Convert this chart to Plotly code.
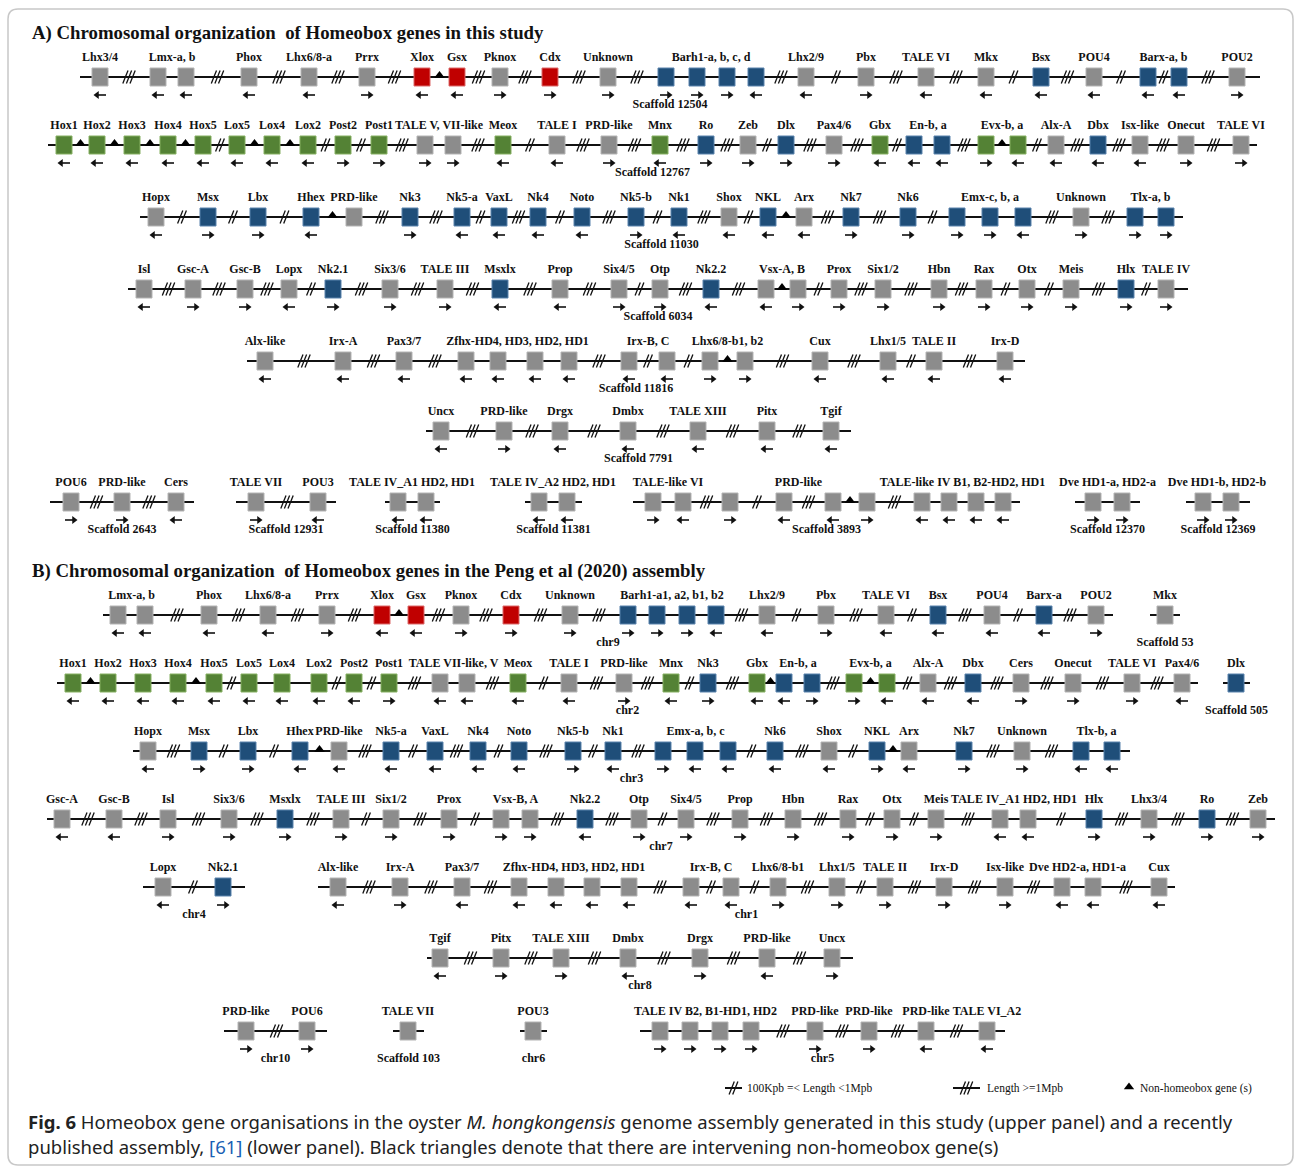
import plotly.graph_objects as go

# ---------------- data ----------------
# colour codes: g grey (other homeobox), r red (ParaHox), b blue (NKL), v green (Hox-linked)
# direction codes: '>' forward, '<' reverse, '.' not shown
# gap codes between neighbours: '0' adjacent, '2' 100Kpb-1Mpb, '3' >=1Mpb, 't' non-homeobox gene(s)

# ----- Panel A : this study -----
A1_x = [100, 158, 186, 249, 309, 367, 422, 457, 500, 550, 608, 666, 697, 727, 756, 806, 866, 926, 986, 1041, 1094, 1148, 1179, 1237]
A1_col = "ggggggrrgrgbbbbggggbgbbg"
A1_dir = "<<<<<><<>>>>>><<><<<<<<>"
A1_gap = "303333t3333000323323223"
A1_lab = ["Lhx3/4", "Lmx-a, b", "Phox", "Lhx6/8-a", "Prrx", "Xlox", "Gsx", "Pknox", "Cdx", "Unknown",
          "Barh1-a, b, c, d", "Lhx2/9", "Pbx", "TALE VI", "Mkx", "Bsx", "POU4", "Barx-a, b", "POU2"]
A1_grp = [1, 2, 1, 1, 1, 1, 1, 1, 1, 1, 4, 1, 1, 1, 1, 1, 1, 2, 1]

A2_x = [64, 97, 132, 168, 203, 237, 272, 308, 343, 379, 425, 453, 503, 557, 609, 660, 706, 748, 786, 834,
        880, 914, 942, 986, 1018, 1056, 1098, 1140, 1186, 1241]
A2_col = "vvvvvvvvvvggvggvbgbgvbbvvgbggg"
A2_dir = "<<<<<<<<>>>><<><>>>><<<><<<<>>"
A2_gap = "tttt2tt2230323333233203t23333"
A2_lab = ["Hox1", "Hox2", "Hox3", "Hox4", "Hox5", "Lox5", "Lox4", "Lox2", "Post2", "Post1", "TALE V, VII-like",
          "Meox", "TALE I", "PRD-like", "Mnx", "Ro", "Zeb", "Dlx", "Pax4/6", "Gbx", "En-b, a", "Evx-b, a",
          "Alx-A", "Dbx", "Isx-like", "Onecut", "TALE VI"]
A2_grp = [1, 1, 1, 1, 1, 1, 1, 1, 1, 1, 2, 1, 1, 1, 1, 1, 1, 1, 1, 1, 2, 2, 1, 1, 1, 1, 1]

A3_x = [156, 208, 258, 311, 354, 410, 462, 499, 538, 582, 636, 679, 729, 768, 804, 851, 908, 957, 990, 1023,
        1081, 1135, 1166]
A3_col = "gbbbgbbbbbbbgbgbbbbbgbb"
A3_dir = "<>><.><<<<><<<<>>>><>>>"
A3_gap = "222t332323232t33200330"
A3_lab = ["Hopx", "Msx", "Lbx", "Hhex", "PRD-like", "Nk3", "Nk5-a", "VaxL", "Nk4", "Noto", "Nk5-b", "Nk1",
          "Shox", "NKL", "Arx", "Nk7", "Nk6", "Emx-c, b, a", "Unknown", "Tlx-a, b"]
A3_grp = [1, 1, 1, 1, 1, 1, 1, 1, 1, 1, 1, 1, 1, 1, 1, 1, 1, 3, 1, 2]

A4_x = [144, 193, 245, 289, 333, 390, 445, 500, 560, 619, 660, 711, 766, 798, 839, 883, 939, 984, 1027, 1071,
        1126, 1166]
A4_col = "ggggbggbgggbggggggggbg"
A4_dir = "<>><>>><<>><<>>>>>>>>>"
A4_gap = "333233333233t23332232"
A4_lab = ["Isl", "Gsc-A", "Gsc-B", "Lopx", "Nk2.1", "Six3/6", "TALE III", "Msxlx", "Prop", "Six4/5", "Otp",
          "Nk2.2", "Vsx-A, B", "Prox", "Six1/2", "Hbn", "Rax", "Otx", "Meis", "Hlx", "TALE IV"]
A4_grp = [1, 1, 1, 1, 1, 1, 1, 1, 1, 1, 1, 1, 2, 1, 1, 1, 1, 1, 1, 1, 1]

A5_x = [265, 343, 404, 466, 498, 535, 569, 629, 667, 710, 745, 820, 888, 934, 1005]
A5_col = "ggggggggggggggg"
A5_dir = "<<<<<<<<<>><<<<"
A5_gap = "333000322t3323"
A5_lab = ["Alx-like", "Irx-A", "Pax3/7", "Zfhx-HD4, HD3, HD2, HD1", "Irx-B, C", "Lhx6/8-b1, b2", "Cux",
          "Lhx1/5", "TALE II", "Irx-D"]
A5_grp = [1, 1, 1, 4, 2, 2, 1, 1, 1, 1]

A6_x = [441, 504, 560, 628, 698, 767, 831]
A6_col = "ggggggg"
A6_dir = "<><<<<<"
A6_gap = "333333"
A6_lab = ["Uncx", "PRD-like", "Drgx", "Dmbx", "TALE XIII", "Pitx", "Tgif"]
A6_grp = [1, 1, 1, 1, 1, 1, 1]

A7a_x, A7a_col, A7a_dir, A7a_gap = [71, 122, 176], "ggg", ">><", "33"
A7a_lab, A7a_grp = ["POU6", "PRD-like", "Cers"], [1, 1, 1]
A7b_x, A7b_col, A7b_dir, A7b_gap = [256, 318], "gg", "><", "3"
A7b_lab, A7b_grp = ["TALE VII", "POU3"], [1, 1]
A7c_x, A7c_col, A7c_dir, A7c_gap = [398, 426], "gg", "<<", "0"
A7c_lab, A7c_grp = ["TALE IV_A1 HD2, HD1"], [2]
A7d_x, A7d_col, A7d_dir, A7d_gap = [539, 567], "gg", "<<", "0"
A7d_lab, A7d_grp = ["TALE IV_A2 HD2, HD1"], [2]
A7e_x = [653, 683, 730, 784, 833, 867, 922, 949, 976, 1003]
A7e_col, A7e_dir, A7e_gap = "gggggggggg", "><><<><<<<", "0323t3000"
A7e_lab, A7e_grp = ["TALE-like VI", "PRD-like", "TALE-like IV B1, B2-HD2, HD1"], [2, 4, 4]
A7f_x, A7f_col, A7f_dir, A7f_gap = [1093, 1122], "gg", ">>", "0"
A7f_lab, A7f_grp = ["Dve HD1-a, HD2-a"], [2]
A7g_x, A7g_col, A7g_dir, A7g_gap = [1203, 1231], "gg", ">>", "0"
A7g_lab, A7g_grp = ["Dve HD1-b, HD2-b"], [2]

# ----- Panel B : Peng et al (2020) assembly -----
B1_x = [118, 145, 209, 268, 327, 382, 416, 461, 511, 570, 628, 657, 687, 716, 767, 826, 886, 938, 992, 1044, 1096]
B1_col = "gggggrrgrgbbbbgggbgbg"
B1_dir = "<<<<><<>>>>>><<><<<<>"
B1_gap = "03333t33330003232323"
B1_lab = ["Lmx-a, b", "Phox", "Lhx6/8-a", "Prrx", "Xlox", "Gsx", "Pknox", "Cdx", "Unknown",
          "Barh1-a1, a2, b1, b2", "Lhx2/9", "Pbx", "TALE VI", "Bsx", "POU4", "Barx-a", "POU2"]
B1_grp = [2, 1, 1, 1, 1, 1, 1, 1, 1, 4, 1, 1, 1, 1, 1, 1, 1]
B1m_x, B1m_col, B1m_dir, B1m_gap, B1m_lab, B1m_grp = [1165], "g", ".", "", ["Mkx"], [1]

B2_x = [73, 108, 143, 178, 214, 249, 282, 319, 354, 389, 440, 467, 518, 569, 624, 671, 708, 757, 784, 812,
        854, 887, 928, 973, 1021, 1073, 1132, 1182]
B2_col = "vvvvvvvvvvggvggvbvbbvvgbgggg"
B2_dir = "<<<<<<<<<><<<<><><<>><<<>>><"
B2_gap = "t00t2002230323323t03t233333"
B2_lab = ["Hox1", "Hox2", "Hox3", "Hox4", "Hox5", "Lox5", "Lox4", "Lox2", "Post2", "Post1", "TALE VII-like, V",
          "Meox", "TALE I", "PRD-like", "Mnx", "Nk3", "Gbx", "En-b, a", "Evx-b, a", "Alx-A", "Dbx", "Cers",
          "Onecut", "TALE VI", "Pax4/6"]
B2_grp = [1, 1, 1, 1, 1, 1, 1, 1, 1, 1, 2, 1, 1, 1, 1, 1, 1, 2, 2, 1, 1, 1, 1, 1, 1]
B2d_x, B2d_col, B2d_dir, B2d_gap, B2d_lab, B2d_grp = [1236], "b", ".", "", ["Dlx"], [1]

B3_x = [148, 199, 248, 300, 339, 391, 435, 478, 519, 573, 613, 663, 695, 728, 775, 829, 877, 909, 964, 1022,
        1081, 1112]
B3_col = "gbbbgbbbbbbbbbbgbgbgbb"
B3_dir = "<>><<<<<<><><<<<><>><<"
B3_gap = "322t323232300232t0330"
B3_lab = ["Hopx", "Msx", "Lbx", "Hhex", "PRD-like", "Nk5-a", "VaxL", "Nk4", "Noto", "Nk5-b", "Nk1",
          "Emx-a, b, c", "Nk6", "Shox", "NKL", "Arx", "Nk7", "Unknown", "Tlx-b, a"]
B3_grp = [1, 1, 1, 1, 1, 1, 1, 1, 1, 1, 1, 3, 1, 1, 1, 1, 1, 1, 2]

B4_x = [62, 114, 168, 229, 285, 341, 391, 449, 501, 530, 585, 639, 686, 740, 793, 848, 892, 936, 1000, 1028,
        1094, 1149, 1207, 1258]
B4_col = "ggggbgggggbgggggggggbgbg"
B4_dir = "<<>>>>>>>><>>>>>>><<>>>>"
B4_gap = "33333232033233322302333"
B4_lab = ["Gsc-A", "Gsc-B", "Isl", "Six3/6", "Msxlx", "TALE III", "Six1/2", "Prox", "Vsx-B, A", "Nk2.2", "Otp",
          "Six4/5", "Prop", "Hbn", "Rax", "Otx", "Meis", "TALE IV_A1 HD2, HD1", "Hlx", "Lhx3/4", "Ro", "Zeb"]
B4_grp = [1, 1, 1, 1, 1, 1, 1, 1, 2, 1, 1, 1, 1, 1, 1, 1, 1, 2, 1, 1, 1, 1]

B5a_x, B5a_col, B5a_dir, B5a_gap = [163, 223], "gb", "<>", "2"
B5a_lab, B5a_grp = ["Lopx", "Nk2.1"], [1, 1]
B5b_x = [338, 400, 462, 519, 556, 592, 629, 691, 731, 778, 837, 885, 944, 1005, 1062, 1093, 1159]
B5b_col = "ggggggggggggggggg"
B5b_dir = "<><<<<<<<>>>>><<<"
B5b_gap = "3330003223233303"
B5b_lab = ["Alx-like", "Irx-A", "Pax3/7", "Zfhx-HD4, HD3, HD2, HD1", "Irx-B, C", "Lhx6/8-b1", "Lhx1/5",
           "TALE II", "Irx-D", "Isx-like", "Dve HD2-a, HD1-a", "Cux"]
B5b_grp = [1, 1, 1, 4, 2, 1, 1, 1, 1, 1, 2, 1]

B6_x = [440, 501, 561, 628, 700, 767, 832]
B6_col, B6_dir, B6_gap = "ggggggg", "<>><><>", "333333"
B6_lab = ["Tgif", "Pitx", "TALE XIII", "Dmbx", "Drgx", "PRD-like", "Uncx"]
B6_grp = [1, 1, 1, 1, 1, 1, 1]

B7a_x, B7a_col, B7a_dir, B7a_gap = [246, 307], "gg", ">>", "3"
B7a_lab, B7a_grp = ["PRD-like", "POU6"], [1, 1]
B7b_x, B7b_col, B7b_dir, B7b_gap, B7b_lab, B7b_grp = [408], "g", ".", "", ["TALE VII"], [1]
B7c_x, B7c_col, B7c_dir, B7c_gap, B7c_lab, B7c_grp = [533], "g", ".", "", ["POU3"], [1]
B7d_x = [660, 690, 720, 751, 815, 869, 926, 987]
B7d_col, B7d_dir, B7d_gap = "gggggggg", ">>>>>><<", "0003333"
B7d_lab = ["TALE IV B2, B1-HD1, HD2", "PRD-like", "PRD-like", "PRD-like", "TALE VI_A2"]
B7d_grp = [4, 1, 1, 1, 1]

# ---------------- track placement on the canvas ----------------
g = globals()
def seg(p):
    return tuple(g[p + s] for s in ("_x", "_col", "_dir", "_gap", "_lab", "_grp"))

TRACKS = [
    ("A1", 77, 80, 1260, "Scaffold 12504"),
    ("A2", 145, 48, 1257, "Scaffold 12767"),
    ("A3", 217, 140, 1183, "Scaffold 11030"),
    ("A4", 289, 128, 1188, "Scaffold 6034"),
    ("A5", 361, 247, 1025, "Scaffold 11816"),
    ("A6", 431, 426, 851, "Scaffold 7791"),
    ("A7a", 502, 50, 194, "Scaffold 2643"),
    ("A7b", 502, 236, 336, "Scaffold 12931"),
    ("A7c", 502, 385, 440, "Scaffold 11380"),
    ("A7d", 502, 525, 582, "Scaffold 11381"),
    ("A7e", 502, 633, 1020, "Scaffold 3893"),
    ("A7f", 502, 1075, 1140, "Scaffold 12370"),
    ("A7g", 502, 1186, 1250, "Scaffold 12369"),
    ("B1", 615, 103, 1113, "chr9"),
    ("B1m", 615, 1150, 1180, "Scaffold 53"),
    ("B2", 683, 57, 1198, "chr2"),
    ("B2d", 683, 1223, 1250, "Scaffold 505"),
    ("B3", 751, 133, 1130, "chr3"),
    ("B4", 819, 47, 1275, "chr7"),
    ("B5a", 887, 143, 245, "chr4"),
    ("B5b", 887, 318, 1175, "chr1"),
    ("B6", 958, 427, 853, "chr8"),
    ("B7a", 1031, 224, 327, "chr10"),
    ("B7b", 1031, 393, 424, "Scaffold 103"),
    ("B7c", 1031, 520, 547, "chr6"),
    ("B7d", 1031, 640, 1005, "chr5"),
]

FILL = {"g": "#8c8c8c", "r": "#c00000", "b": "#1f4e79", "v": "#548235"}
EDGE = {"g": "#b4b4b4", "r": "#dc6a6a", "b": "#5b83ad", "v": "#86b062"}
BW, BH = 16, 18

line_x, line_y = [], []
sl_x, sl_y = [], []
tri_x, tri_y = [], []
box = {c: ([], []) for c in FILL}
sh_x, sh_y = [], []
hd_x, hd_y, hd_s = [], [], []
lb_x, lb_y, lb_t = [], [], []


def slashes(cx, y, n):
    for k in range(n):
        ox = cx + (k - (n - 1) / 2) * 3.6
        sl_x.extend([ox - 2.6, ox + 2.6, None])
        sl_y.extend([y + 6.5, y - 6.5, None])


for key, y, x0, x1, name in TRACKS:
    xs, col, dirs, gaps, labs, grp = seg(key)
    line_x.extend([x0, x1, None]); line_y.extend([y, y, None])
    for i, gc in enumerate(gaps):
        mx = (xs[i] + xs[i + 1]) / 2
        if gc in "23":
            slashes(mx, y, int(gc))
        elif gc == "t":
            tri_x.append(mx); tri_y.append(y - 1.5)
    for x, c, d in zip(xs, col, dirs):
        bx, by = box[c]
        bx.extend([x - BW / 2, x + BW / 2, x + BW / 2, x - BW / 2, x - BW / 2, None])
        by.extend([y - BH / 2, y - BH / 2, y + BH / 2, y + BH / 2, y - BH / 2, None])
        ay = y + 18
        if d == ">":
            sh_x.extend([x - 6, x + 2, None]); sh_y.extend([ay, ay, None])
            hd_x.append(x + 3); hd_y.append(ay); hd_s.append("triangle-right")
        elif d == "<":
            sh_x.extend([x + 6, x - 2, None]); sh_y.extend([ay, ay, None])
            hd_x.append(x - 3); hd_y.append(ay); hd_s.append("triangle-left")
    idx = 0
    for t, n in zip(labs, grp):
        lb_x.append((xs[idx] + xs[idx + n - 1]) / 2); lb_y.append(y - 19); lb_t.append(t)
        idx += n
    lb_x.append((x0 + x1) / 2); lb_y.append(y + 28); lb_t.append(name)

# legend symbols
LEG_Y = 1088
line_x.extend([725, 742, None, 953, 980, None]); line_y.extend([LEG_Y, LEG_Y, None, LEG_Y, LEG_Y, None])
slashes(733.5, LEG_Y, 2)
slashes(966.5, LEG_Y, 3)
tri_x.append(1129); tri_y.append(LEG_Y - 1)

fig = go.Figure()
fig.add_trace(go.Scatter(x=line_x, y=line_y, mode="lines", line=dict(color="#111111", width=2),
                         hoverinfo="skip"))
fig.add_trace(go.Scatter(x=sl_x, y=sl_y, mode="lines", line=dict(color="#111111", width=1.3),
                         hoverinfo="skip"))
for c in FILL:
    bx, by = box[c]
    if bx:
        fig.add_trace(go.Scatter(x=bx, y=by, mode="lines", fill="toself", fillcolor=FILL[c],
                                 line=dict(color=EDGE[c], width=1), hoverinfo="skip"))
fig.add_trace(go.Scatter(x=tri_x, y=tri_y, mode="markers",
                         marker=dict(symbol="triangle-up", size=9, color="#000000"), hoverinfo="skip"))
fig.add_trace(go.Scatter(x=sh_x, y=sh_y, mode="lines", line=dict(color="#111111", width=1.6),
                         hoverinfo="skip"))
fig.add_trace(go.Scatter(x=hd_x, y=hd_y, mode="markers",
                         marker=dict(symbol=hd_s, size=7, color="#111111"), hoverinfo="skip"))
fig.add_trace(go.Scatter(x=lb_x, y=lb_y, mode="text", text=lb_t, textposition="middle center",
                         textfont=dict(family="Liberation Serif", size=12, color="#111111", weight="bold"),
                         hoverinfo="skip"))

SERIF = "Liberation Serif"
ann = [
    dict(x=30, y=33, text="A) Chromosomal organization  of Homeobox genes in this study",
         font=dict(family=SERIF, size=18.8, color="#111111", weight="bold")),
    dict(x=30, y=571, text="B) Chromosomal organization  of Homeobox genes in the Peng et al (2020) assembly",
         font=dict(family=SERIF, size=18.8, color="#111111", weight="bold")),
    dict(x=745, y=LEG_Y, text="100Kpb =< Length <1Mpb", font=dict(family=SERIF, size=11.5, color="#111111")),
    dict(x=985, y=LEG_Y, text="Length >=1Mpb", font=dict(family=SERIF, size=11.5, color="#111111")),
    dict(x=1138, y=LEG_Y, text="Non-homeobox gene (s)", font=dict(family=SERIF, size=11.5, color="#111111")),
    dict(x=26, y=1121,
         text="<b>Fig. 6</b> Homeobox gene organisations in the oyster <i>M. hongkongensis</i> genome assembly "
              "generated in this study (upper panel) and a recently",
         font=dict(family="Noto Sans", size=18.5, color="#222222")),
    dict(x=26, y=1146,
         text="published assembly, <span style='color:#1a5fb4'>[61]</span> (lower panel). Black triangles "
              "denote that there are intervening non-homeobox gene(s)",
         font=dict(family="Noto Sans", size=18.5, color="#222222")),
]
for a in ann:
    a.update(xref="x", yref="y", xanchor="left", yanchor="middle", showarrow=False)

border = ("M 18,9 L 1283,9 Q 1293,9 1293,19 L 1293,1155 Q 1293,1165 1283,1165 "
          "L 18,1165 Q 8,1165 8,1155 L 8,19 Q 8,9 18,9 Z")

fig.update_layout(
    width=1295, height=1166, margin=dict(l=0, r=0, t=0, b=0),
    paper_bgcolor="white", plot_bgcolor="white", showlegend=False,
    xaxis=dict(range=[0, 1295], visible=False, fixedrange=True),
    yaxis=dict(range=[1166, 0], visible=False, fixedrange=True),
    annotations=ann,
    shapes=[dict(type="path", path=border, xref="x", yref="y", line=dict(color="#c8c8c8", width=1.5),
                 layer="below")],
)

fig.write_html("out.html", config={"displayModeBar": False},
               post_script="document.body.style.margin='0px';")
